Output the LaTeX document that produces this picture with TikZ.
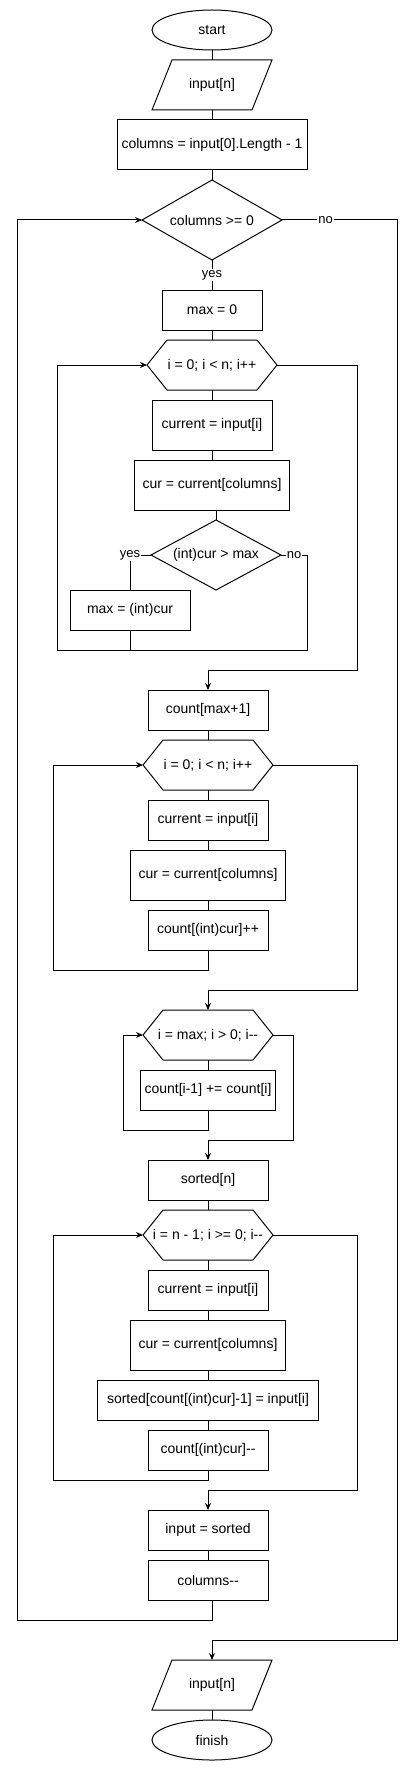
\documentclass[tikz,border=0pt]{standalone}
\usepackage{fontspec}
\setmainfont{Liberation Sans}
\usetikzlibrary{positioning,shapes.geometric,arrows.meta}
\newcommand{\minmin}{-\kern0pt-}

\begin{document}
\begin{tikzpicture}[x=1pt, y=-1pt, node distance=10pt, line width=1pt,
    font=\fontsize{14}{16}\selectfont,
    every node/.style={inner sep=0pt, outer sep=0pt},
    term/.style={draw, ellipse, minimum width=120pt, minimum height=40pt},
    io/.style={minimum width=120pt, minimum height=50pt,
        append after command={\pgfextra{\draw ([xshift=20pt]\tikzlastnode.north west)
            -- (\tikzlastnode.north east) -- ([xshift=-20pt]\tikzlastnode.south east)
            -- (\tikzlastnode.south west) -- cycle;}}},
    proc/.style={draw, rectangle, minimum width=120pt, minimum height=40pt},
    cond/.style={draw, diamond, aspect=1.75, minimum width=140pt, minimum height=80pt},
    loop/.style={minimum width=130pt, minimum height=50pt,
        append after command={\pgfextra{\draw ([xshift=20pt]\tikzlastnode.north west)
            -- ([xshift=-20pt]\tikzlastnode.north east) -- (\tikzlastnode.east)
            -- ([xshift=-20pt]\tikzlastnode.south east) -- ([xshift=20pt]\tikzlastnode.south west)
            -- (\tikzlastnode.west) -- cycle;}}},
    lbl/.style={fill=white, font=\fontsize{13}{15}\selectfont, inner sep=1pt},
    arr/.style={-{Stealth[length=7pt, width=6pt]}}]
    \useasboundingbox (0,0) rectangle (416,1771);

    % start
    \node(start) [term] at (212,30) {start};
    \node(in0)   [io, below=of start] {input[n]};
    \node(cols)  [proc, minimum width=190pt, minimum height=50pt, below=of in0] {columns = input[0].Length - 1};
    \node(colchk) [cond, below=of cols] {columns >= 0};
    \node(max0)  [proc, minimum width=100pt, below=30pt of colchk] {max = 0};

    % loop 1
    \node(for1)  [loop, below=of max0] {i = 0; i < n; i++};
    \node(cur1)  [proc, minimum height=50pt, below=of for1] {current = input[i]};
    \node(col1)  [proc, minimum width=155pt, minimum height=50pt, below=of cur1] {cur = current[columns]};
    \node(cmp)   [cond, aspect=1.86, minimum width=130pt, minimum height=70pt, below=of col1, xshift=4pt] {(int)cur > max};
    \node(setmax) [proc, anchor=north] at ([xshift=-21pt]cmp.west |- cmp.south) {max = (int)cur};

    % loop 2
    \node(cnt)   [proc, below=100pt of cmp, xshift=-8pt] {count[max+1]};
    \node(for2)  [loop, below=of cnt] {i = 0; i < n; i++};
    \node(cur2)  [proc, below=of for2] {current = input[i]};
    \node(col2)  [proc, minimum width=155pt, minimum height=50pt, below=of cur2] {cur = current[columns]};
    \node(inc)   [proc, below=of col2] {count[(int)cur]++};

    % loop 3
    \node(for3)  [loop, below=60pt of inc] {i = max; i > 0; i\minmin};
    \node(acc)   [proc, minimum width=135pt, below=of for3] {count[i-1] += count[i]};
    \node(srt)   [proc, below=50pt of acc] {sorted[n]};

    % loop 4
    \node(for4)  [loop, below=of srt] {i = n - 1; i >= 0; i\minmin};
    \node(cur3)  [proc, below=of for4] {current = input[i]};
    \node(col3)  [proc, minimum width=155pt, minimum height=50pt, below=of cur3] {cur = current[columns]};
    \node(put)   [proc, minimum width=221pt, below=of col3] {sorted[count[(int)cur]-1] = input[i]};
    \node(dec)   [proc, below=of put] {count[(int)cur]\minmin};
    \node(asg)   [proc, below=40pt of dec] {input = sorted};
    \node(cdec)  [proc, below=of asg] {columns\minmin};

    % finish
    \node(out)   [io, below=60pt of cdec, xshift=4pt] {input[n]};
    \node(fin)   [term, below=of out] {finish};

    % corners
    \coordinate (l0) at (17,1620);
    \coordinate (x0) at (397,1640);
    \coordinate (l1a) at (57,650);
    \coordinate (l1b) at (307,650);
    \coordinate (x1) at (357,670);
    \coordinate (l2) at (53,970);
    \coordinate (x2) at (357,990);
    \coordinate (l3) at (123,1130);
    \coordinate (x3) at (293,1140);
    \coordinate (l4) at (53,1480);
    \coordinate (x4) at (357,1490);

    %%%%% Edges %%%%%
    \draw (start) -- (in0);
    \draw (in0) -- (cols);
    \draw (cols) -- (colchk);
    \draw (colchk) to node [lbl] {yes} (max0);
    \draw[arr] ([xshift=4pt]cdec.south) |- (l0) |- (colchk.west);
    \draw[arr] (colchk.east) -| node [lbl, pos=0.19] {no} (x0) -| (out.north);
    \draw (out) -- (fin);

    % loop 1
    \draw (max0) -- (for1);
    \draw (for1) -- (cur1);
    \draw (cur1) -- (col1);
    \draw (cmp.north |- col1.south) -- (cmp.north);
    \draw (cmp.west) -| node [lbl] {yes} (setmax.north);
    \draw[arr] (cmp.east) -| node [lbl, pos=0.25] {no} (l1b) -- (l1a) |- (for1.west);
    \draw (setmax.south) -- (setmax.south |- l1a);
    \draw[arr] (for1.east) -| (x1) -| (cnt.north);

    % loop 2
    \draw (cnt) -- (for2);
    \draw (for2) -- (cur2);
    \draw (cur2) -- (col2);
    \draw (col2) -- (inc);
    \draw[arr] (inc.south) |- (l2) |- (for2.west);
    \draw[arr] (for2.east) -| (x2) -| (for3.north);

    % loop 3
    \draw (for3) -- (acc);
    \draw[arr] (acc.south) |- (l3) |- (for3.west);
    \draw[arr] (for3.east) -| (x3) -| (srt.north);

    % loop 4
    \draw (srt) -- (for4);
    \draw (for4) -- (cur3);
    \draw (cur3) -- (col3);
    \draw (col3) -- (put);
    \draw (put) -- (dec);
    \draw[arr] (dec.south) |- (l4) |- (for4.west);
    \draw[arr] (for4.east) -| (x4) -| (asg.north);
    \draw (asg) -- (cdec);

  \end{tikzpicture}
\end{document}
